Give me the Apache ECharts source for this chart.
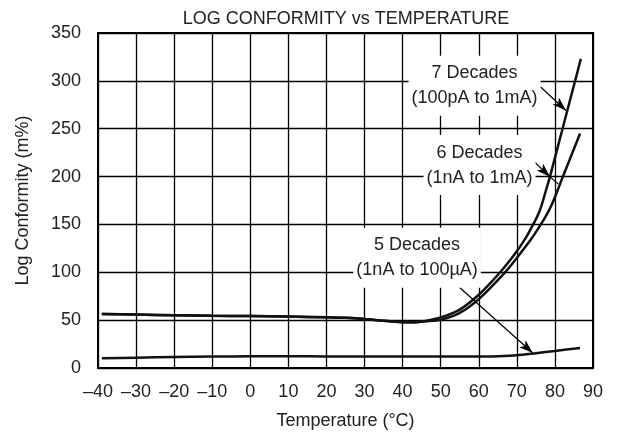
<!DOCTYPE html>
<html>
<head>
<meta charset="utf-8">
<script src="https://cdn.jsdelivr.net/npm/echarts@6/dist/echarts.min.js"></script>
<style>html,body{margin:0;padding:0;background:#fff;}#c{width:618px;height:435px;}</style>
</head>
<body>
<div id="c"></div>
<script>
// ---- data ----
const xTicks = [-40, -30, -20, -10, 0, 10, 20, 30, 40, 50, 60, 70, 80, 90];
const yTicks = [0, 50, 100, 150, 200, 250, 300, 350];

const temp7 = [-39, -30, -20, -10, 0, 10, 20, 25, 30, 35, 40, 43, 46, 50, 55, 60, 65.6, 70, 72.5, 74.3, 75.5, 76.5, 77.6, 78.7, 82, 85.3, 86.8];
const val7  = [56.3, 55.8, 55.2, 54.6, 54.2, 53.7, 53.0, 52.4, 51.2, 49.3, 47.9, 47.8, 49.2, 52.8, 61, 76.5, 100, 122, 137, 150, 159.5, 170, 185, 200, 250, 300, 323];

const temp6 = [-39, -30, -20, -10, 0, 10, 20, 25, 30, 35, 40, 43, 46, 50, 55, 60, 66.9, 70, 74, 76.3, 77.8, 79.1, 80.3, 82, 84, 86.6];
const val6  = [56.3, 55.8, 55.2, 54.6, 54.2, 53.7, 53.0, 52.4, 51.2, 49.3, 47.9, 47.8, 48.8, 50.3, 57.5, 72, 100, 115, 136, 150, 160, 170, 181.5, 199, 219, 245];

const temp5 = [-39, -30, -20, -10, 0, 10, 20, 30, 40, 50, 60, 65, 70, 75, 80, 86.6];
const val5  = [10.2, 10.8, 11.4, 11.9, 12.2, 12.2, 12.1, 12.0, 12.0, 12.0, 12.0, 12.4, 13.3, 15.5, 17.8, 21];

const labelTexts = ['7 Decades\n(100pA to 1mA)', '6 Decades\n(1nA to 1mA)', '5 Decades\n(1nA to 100µA)'];
const labelAnchors = [[58.9, 294.9], [60.2, 212], [43.8, 115.3]];
// arrows: [start, tip]
const arrows = [
  [[75.6, 296], [82.9, 269]],
  [[73.9, 218.1], [78.7, 199.7]],
  [[53.8, 88.3], [74.2, 15.6]]
];
const arrowTails = [[[78.7, 199.7], [80.9, 192.1]]];

const zip = (xs, ys) => xs.map((x, i) => [x, ys[i]]);

const FONT = 'Liberation Sans, Arial, Helvetica, sans-serif';
const TXT = '#222';

const chart = echarts.init(document.getElementById('c'), null, {renderer: 'canvas'});
const lineStyle = {color: '#111', width: 2.5};

const markLineData = arrows.map(a => [{coord: a[0]}, {coord: a[1]}])
  .concat(arrowTails.map(a => [{coord: a[0], symbol: 'none'}, {coord: a[1], symbol: 'none'}]));

chart.setOption({
  animation: false,
  title: {
    text: 'LOG CONFORMITY vs TEMPERATURE',
    left: 346, top: 10, padding: 0, textAlign: 'center',
    textStyle: {fontFamily: FONT, fontSize: 18, fontWeight: 'normal', color: TXT}
  },
  grid: {left: 98, right: 25, top: 33, bottom: 65, show: true, borderColor: '#000', borderWidth: 2, containLabel: false},
  xAxis: {
    type: 'value', min: xTicks[0], max: xTicks[xTicks.length - 1], interval: 10,
    name: 'Temperature (°C)', nameLocation: 'middle', nameGap: 44,
    nameTextStyle: {fontFamily: FONT, fontSize: 18, color: TXT},
    axisLine: {show: true, onZero: false, lineStyle: {color: '#000', width: 2}},
    axisTick: {show: false},
    axisLabel: {margin: 15, fontFamily: FONT, fontSize: 18, color: TXT,
      formatter: v => String(v).replace('-', '\u2013')},
    splitLine: {show: true, lineStyle: {color: '#000', width: 1.3}}
  },
  yAxis: {
    type: 'value', min: yTicks[0], max: yTicks[yTicks.length - 1], interval: 50,
    name: 'Log Conformity (m%)', nameLocation: 'middle', nameGap: 66,
    nameTextStyle: {fontFamily: FONT, fontSize: 18, color: TXT},
    axisLine: {show: true, onZero: false, lineStyle: {color: '#000', width: 2}},
    axisTick: {show: false},
    axisLabel: {margin: 17, fontFamily: FONT, fontSize: 18, color: TXT},
    splitLine: {show: true, lineStyle: {color: '#000', width: 1.3}}
  },
  series: [
    {
      name: '7 Decades', type: 'line', data: zip(temp7, val7), showSymbol: false, symbol: 'none',
      smooth: 0.25, lineStyle: lineStyle, silent: true, z: 3,
      markPoint: {
        silent: true, symbol: 'rect', symbolSize: 1, itemStyle: {color: 'rgba(0,0,0,0)'},
        label: {show: true, position: 'inside', fontFamily: FONT, fontSize: 18, lineHeight: 25,
          color: TXT, backgroundColor: '#fff', padding: [5, 3, 5, 3], align: 'center', verticalAlign: 'middle',
          formatter: p => p.data.value},
        data: labelAnchors.map((c, i) => ({coord: c, value: labelTexts[i]}))
      },
      markLine: {
        silent: true, symbol: ['none', 'arrow'], symbolSize: [7, 14],
        lineStyle: {color: '#000', width: 1.2, type: 'solid'},
        label: {show: false}, emphasis: {disabled: true},
        data: markLineData
      }
    },
    {name: '6 Decades', type: 'line', data: zip(temp6, val6), showSymbol: false, symbol: 'none',
      smooth: 0.25, lineStyle: lineStyle, silent: true, z: 3},
    {name: '5 Decades', type: 'line', data: zip(temp5, val5), showSymbol: false, symbol: 'none',
      smooth: 0.25, lineStyle: lineStyle, silent: true, z: 3}
  ]
});
</script>
</body>
</html>
